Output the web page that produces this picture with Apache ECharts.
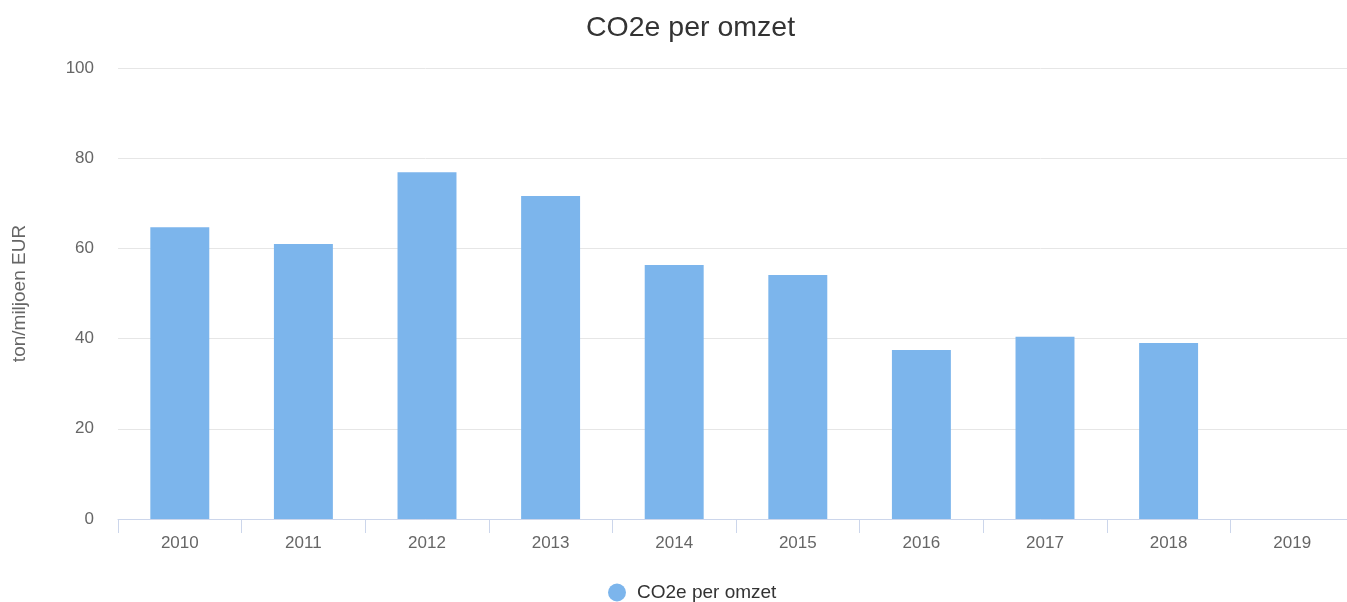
<!DOCTYPE html>
<html>
<head>
<meta charset="utf-8">
<script src="https://cdn.jsdelivr.net/npm/echarts@6/dist/echarts.min.js"></script>
<style>
  html, body { margin: 0; padding: 0; background: #fff; }
  #chart { width: 1347px; height: 602px; }
</style>
</head>
<body>
<div id="chart"></div>
<script>
const years = ['2010', '2011', '2012', '2013', '2014', '2015', '2016', '2017', '2018', '2019']
const co2PerOmzet = [64.7, 61.0, 76.9, 71.6, 56.3, 54.1, 37.5, 40.4, 39.0, null]
const seriesName = 'CO2e per omzet'

const myChart = echarts.init(document.getElementById('chart'))
window.addEventListener('resize', () => {
  myChart.resize()
})

const font = 'Liberation Sans, Arial, sans-serif'

const option = {
  animation: false,
  title: {
    text: 'CO2e per omzet',
    left: 581,
    top: 9,
    textStyle: {
      fontFamily: font,
      fontSize: 28.5,
      fontWeight: 'normal',
      color: '#333333',
    },
  },
  legend: {
    data: [seriesName],
    bottom: -5,
    left: 603,
    icon: 'circle',
    itemWidth: 30,
    itemHeight: 18,
    itemGap: 10,
    textStyle: {
      fontFamily: font,
      fontSize: 19,
      color: '#333333',
    },
  },
  grid: {
    left: 118,
    width: 1236,
    top: 68,
    bottom: 83,
    outerBoundsMode: 'none',
  },
  xAxis: {
    type: 'category',
    data: years,
    axisLine: { lineStyle: { color: '#ccd6eb', width: 1 } },
    axisTick: { show: true, length: 14, lineStyle: { color: '#ccd6eb' } },
    axisLabel: {
      margin: 16,
      fontFamily: font,
      fontSize: 17,
      color: '#666666',
    },
  },
  yAxis: {
    type: 'value',
    min: 0,
    max: 100,
    interval: 20,
    name: 'ton/miljoen EUR',
    nameLocation: 'middle',
    nameGap: 89,
    nameTextStyle: {
      fontFamily: font,
      fontSize: 19,
      color: '#666666',
    },
    axisLine: { show: false },
    axisTick: { show: false },
    axisLabel: {
      margin: 24,
      fontFamily: font,
      fontSize: 17,
      color: '#666666',
    },
    splitLine: { lineStyle: { color: '#e6e6e6', width: 1 } },
  },
  series: [
    {
      name: seriesName,
      type: 'bar',
      data: co2PerOmzet,
      barCategoryGap: '52.3%',
      itemStyle: { color: '#7cb5ec' },
    },
  ],
}

myChart.setOption(option, true)
</script>
</body>
</html>
